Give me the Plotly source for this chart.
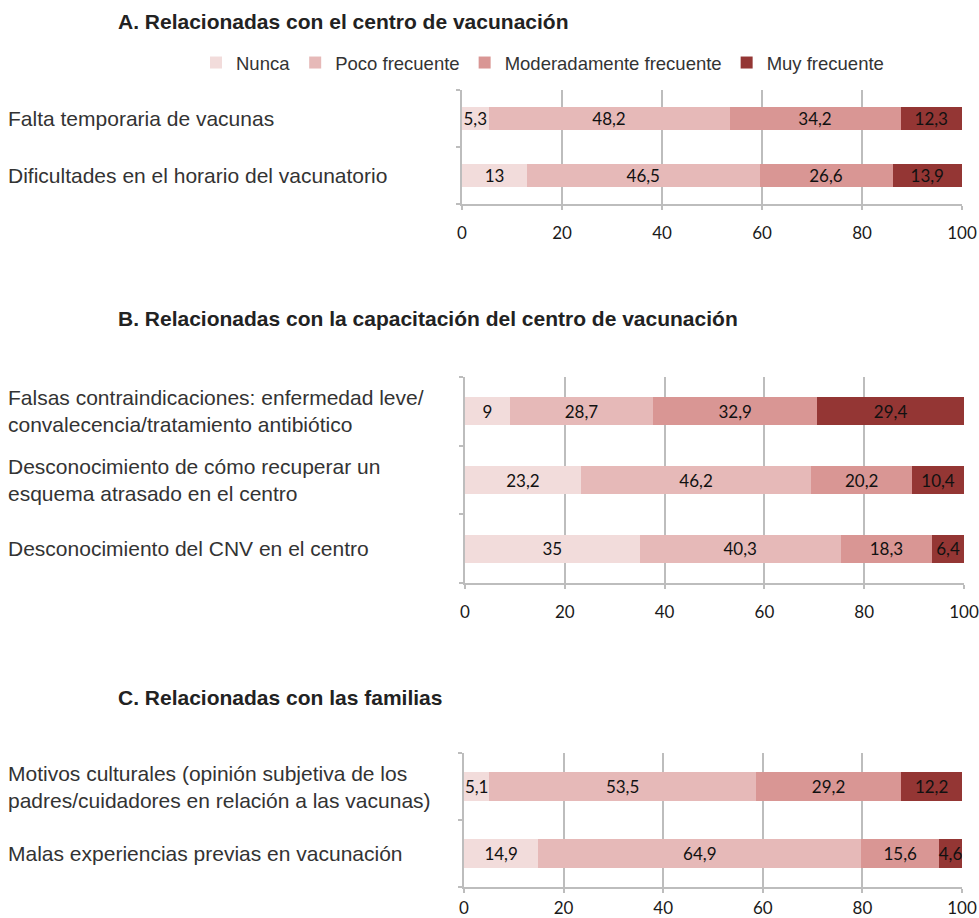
import plotly.graph_objects as go

# Response categories and colours (Nunca -> Muy frecuente)
levels = ["Nunca", "Poco frecuente", "Moderadamente frecuente", "Muy frecuente"]
colors = ["#F2DCDB", "#E6B9B8", "#D99694", "#943634"]

# Panel A: barriers related to the vaccination centre
cats_a = ["Falta temporaria de vacunas",
          "Dificultades en el horario del vacunatorio"]
nunca_a = [5.3, 13]
poco_a = [48.2, 46.5]
moder_a = [34.2, 26.6]
muy_a = [12.3, 13.9]

# Panel B: barriers related to training at the vaccination centre
cats_b = ["Falsas contraindicaciones: enfermedad leve/<br>convalecencia/tratamiento antibiótico",
          "Desconocimiento de cómo recuperar un<br>esquema atrasado en el centro",
          "Desconocimiento del CNV en el centro"]
nunca_b = [9, 23.2, 35]
poco_b = [28.7, 46.2, 40.3]
moder_b = [32.9, 20.2, 18.3]
muy_b = [29.4, 10.4, 6.4]

# Panel C: barriers related to families
cats_c = ["Motivos culturales (opinión subjetiva de los<br>padres/cuidadores en relación a las vacunas)",
          "Malas experiencias previas en vacunación"]
nunca_c = [5.1, 14.9]
poco_c = [53.5, 64.9]
moder_c = [29.2, 15.6]
muy_c = [12.2, 4.6]

xticks = [0, 20, 40, 60, 80, 100]

titles = ["A. Relacionadas con el centro de vacunación",
          "B. Relacionadas con la capacitación del centro de vacunación",
          "C. Relacionadas con las familias"]

W, H = 979, 918

def fmt(v):
    return f"{v:g}".replace(".", ",")

# Pixel placement of each panel's plotting area
panels = [
    dict(cats=cats_a, series=[nunca_a, poco_a, moder_a, muy_a],
         px=(462, 962), py=(90, 204), width=0.4, standoff=9),
    dict(cats=cats_b, series=[nunca_b, poco_b, moder_b, muy_b],
         px=(465, 964), py=(377, 583), width=0.41, standoff=9),
    dict(cats=cats_c, series=[nunca_c, poco_c, moder_c, muy_c],
         px=(464, 962), py=(753, 887), width=0.42, standoff=1),
]
title_y = [21, 318, 697]

fig = go.Figure()
annotations = []
layout_axes = {}
grid = "#BDBDBD"
label_font = dict(family="Liberation Sans, Arial, sans-serif", size=21, color="#333333")

for i, p in enumerate(panels):
    n = len(p["cats"])
    idx = list(range(n))
    xa = "x" if i == 0 else f"x{i+1}"
    ya = "y" if i == 0 else f"y{i+1}"
    for lvl, col, vals in zip(levels, colors, p["series"]):
        fig.add_trace(go.Bar(
            x=vals, y=idx, orientation="h", name=lvl,
            marker=dict(color=col, line=dict(width=0)),
            width=p["width"],
            text=[fmt(v) for v in vals],
            textposition="inside", insidetextanchor="middle", textangle=0,
            textfont=dict(family="Lato, sans-serif", size=17, color="#111111"),
            xaxis=xa, yaxis=ya, showlegend=(i == 0), legendgroup=lvl,
            hoverinfo="skip",
        ))
    x0, x1 = p["px"]
    y0, y1 = p["py"]
    xk = "xaxis" if i == 0 else f"xaxis{i+1}"
    yk = "yaxis" if i == 0 else f"yaxis{i+1}"
    layout_axes[xk] = dict(
        domain=[x0 / W, x1 / W], anchor=ya, range=[0, 100],
        tickvals=xticks, showgrid=True, gridcolor=grid, gridwidth=1.5,
        zeroline=False, showline=True, linecolor=grid, linewidth=1.5,
        ticks="outside", ticklen=4, tickcolor=grid, tickwidth=1.5,
        ticklabelstandoff=p["standoff"], automargin=False,
        tickfont=dict(family="Lato, sans-serif", size=17, color="#1A1A1A"),
        fixedrange=True,
    )
    layout_axes[yk] = dict(
        domain=[1 - y1 / H, 1 - y0 / H], anchor=xa,
        range=[n - 0.5, -0.5], tickvals=[k - 0.5 for k in range(n + 1)],
        showticklabels=False, showgrid=False, zeroline=False,
        showline=True, linecolor=grid, linewidth=1.5,
        ticks="outside", ticklen=4, tickcolor=grid, tickwidth=1.5,
        automargin=False, fixedrange=True,
    )
    for k, c in enumerate(p["cats"]):
        annotations.append(dict(
            text=c, xref="paper", yref=ya, x=6 / W, y=k,
            xanchor="left", yanchor="middle", align="left",
            showarrow=False, font=label_font,
        ))
    annotations.append(dict(
        text=f"<b>{titles[i]}</b>", xref="paper", yref="paper",
        x=116 / W, y=1 - title_y[i] / H, xanchor="left", yanchor="middle",
        showarrow=False,
        font=dict(family="Liberation Sans, Arial, sans-serif", size=21, color="#222222"),
    ))

fig.update_layout(
    width=W, height=H, margin=dict(l=0, r=0, t=0, b=0, autoexpand=False),
    paper_bgcolor="white", plot_bgcolor="white",
    barmode="stack", bargap=0.6,
    uniformtext=dict(minsize=17, mode="show"),
    annotations=annotations,
    legend=dict(orientation="h", x=196 / W, y=1 - 63 / H,
                xanchor="left", yanchor="middle",
                font=dict(family="Liberation Sans, Arial, sans-serif", size=18.5, color="#333333"),
                traceorder="normal", itemclick=False, itemdoubleclick=False,
                bgcolor="rgba(0,0,0,0)"),
    **layout_axes,
)

fig.write_html("out.html", config={"displayModeBar": False})
